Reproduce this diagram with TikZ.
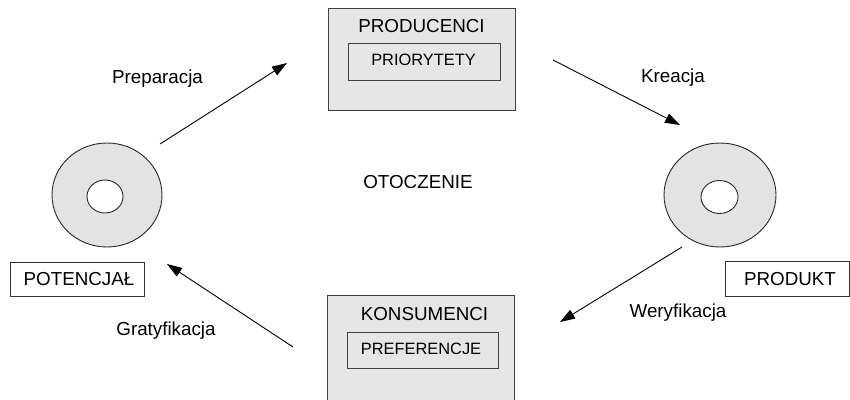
\documentclass[tikz,border=0pt]{standalone}
\usepackage{fontspec}
\setmainfont{Liberation Sans}
\usetikzlibrary{arrows.meta}
\definecolor{boxgray}{HTML}{E6E6E6}
\definecolor{diskgray}{HTML}{E3E3E3}
\tikzset{
  outerbox/.style={draw=black!75, line width=0.9pt, fill=boxgray},
  innerbox/.style={draw=black!75, line width=0.9pt},
  labelbox/.style={draw=black!80, line width=0.9pt, fill=white},
  disk/.style={draw=black!85, line width=0.9pt, fill=diskgray},
  hole/.style={draw=black!85, line width=0.9pt, fill=white},
  big/.style={font=\fontsize{18.8}{22}\selectfont, anchor=base, inner sep=0pt},
  small/.style={font=\fontsize{16.4}{20}\selectfont, anchor=base, inner sep=0pt},
  flow/.style={line width=0.9pt, -{Triangle[length=15pt,width=10pt]}},
}
\begin{document}
\begin{tikzpicture}[x=1pt,y=-1pt]
\useasboundingbox (0,0) rectangle (850,399);
\begin{scope}
\clip (0,0) rectangle (850,399);
% boxes
\draw[outerbox] (328,8) rectangle (515,110);
\node[draw=none] (prodbox) at (421.5,59) {};
\draw[innerbox] (348,43) rectangle (500,80);
\draw[outerbox] (327,295) rectangle (514,420);
\draw[innerbox] (347,332) rectangle (498,368);
% disks
\draw[disk] (107,195) ellipse [x radius=55, y radius=52];
\draw[hole] (105,196.5) ellipse [x radius=18, y radius=16.5];
\draw[disk] (720,195) ellipse [x radius=56, y radius=52];
\draw[hole] (719.5,197) ellipse [x radius=18.5, y radius=16.5];
% label boxes
\draw[labelbox] (10,262) rectangle (144,296);
\draw[labelbox] (725,261) rectangle (849,296);
\end{scope}
% texts
\node[big] (producenci) at (421.5,32) {PRODUCENCI};
\node[small] (priorytety) at (423.5,65) {PRIORYTETY};
\node[big] (konsumenci) at (424.5,320) {KONSUMENCI};
\node[small] (preferencje) at (421,354) {PREFERENCJE};
\node[big] (potencjal) at (79,285) {POTENCJAŁ};
\node[big] (produkt) at (790,285) {PRODUKT};
\node[big] (otoczenie) at (418,188) {OTOCZENIE};
\node[big] (preparacja) at (157.5,83) {Preparacja};
\node[big] (kreacja) at (673,82) {Kreacja};
\node[big] (weryfikacja) at (678,317) {Weryfikacja};
\node[big] (gratyfikacja) at (166,335) {Gratyfikacja};
% arrows
\coordinate (p1) at (160,144); \coordinate (p2) at (287,63);
\coordinate (k1) at (553,60);  \coordinate (k2) at (680,125);
\coordinate (w1) at (682,247); \coordinate (w2) at (560,322);
\coordinate (g1) at (293,347); \coordinate (g2) at (167,264);
\draw[flow] (p1) -- (p2);
\draw[flow] (k1) -- (k2);
\draw[flow] (w1) -- (w2);
\draw[flow] (g1) -- (g2);
\end{tikzpicture}
\end{document}
